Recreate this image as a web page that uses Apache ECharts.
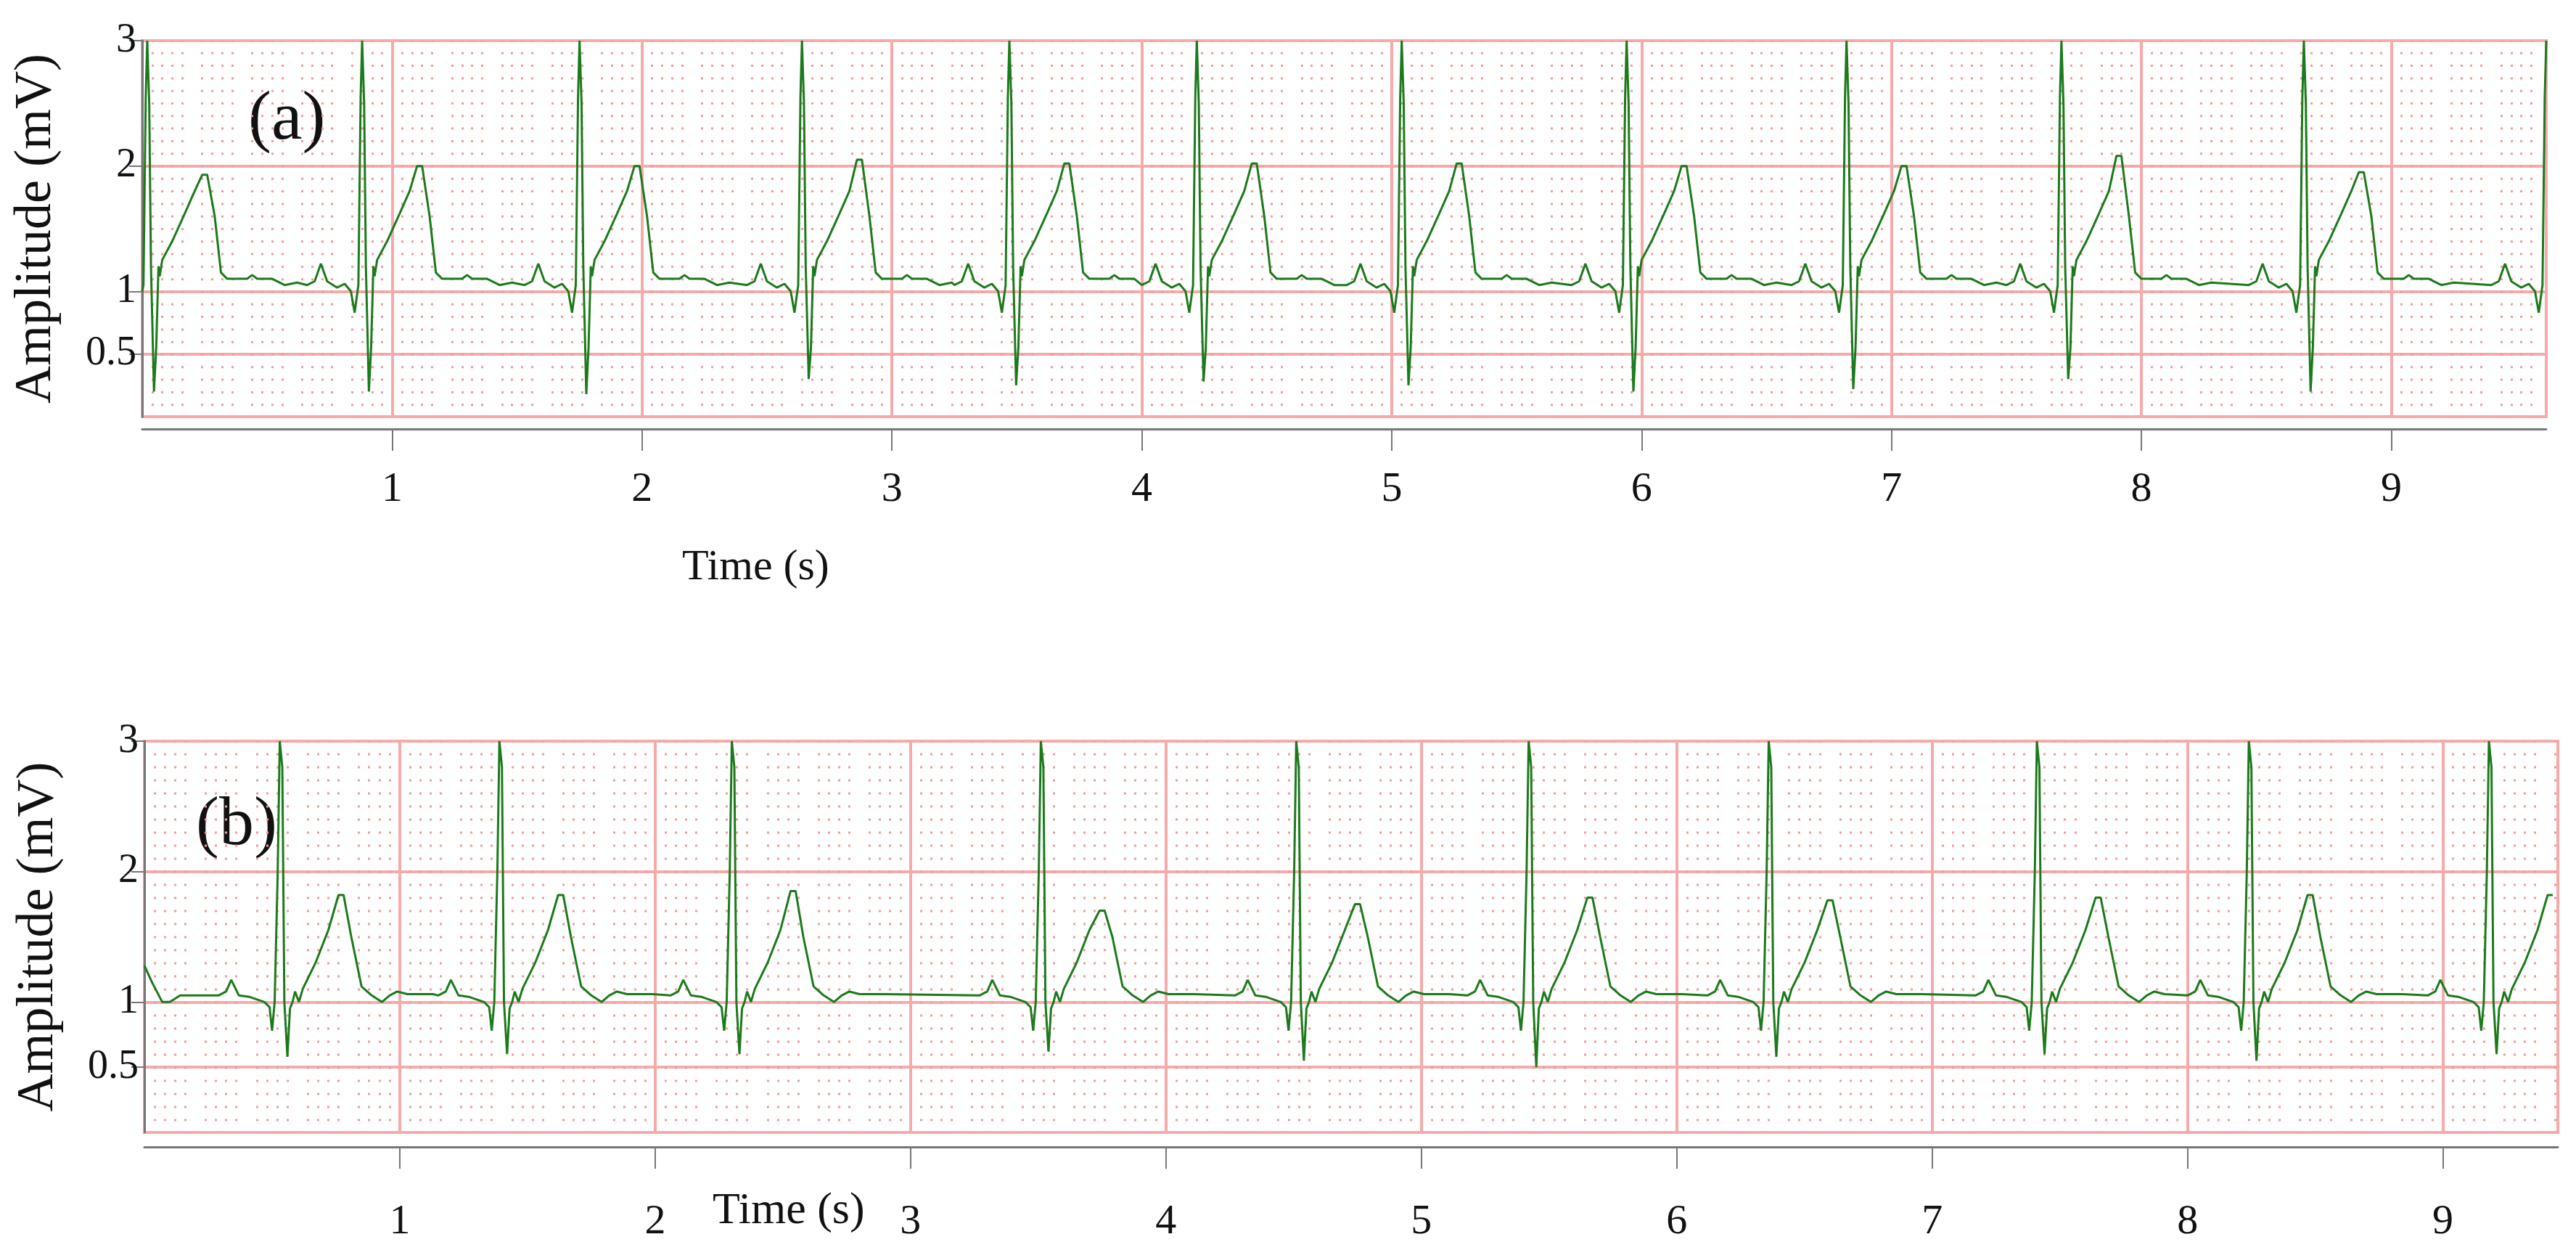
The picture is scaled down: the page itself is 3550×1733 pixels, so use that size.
<!DOCTYPE html>
<html>
<head>
<meta charset="utf-8">
<script src="https://cdn.jsdelivr.net/npm/echarts@6/dist/echarts.min.js"></script>
<style>
  html, body { margin: 0; padding: 0; background: #fff; }
  #chart { width: 3550px; height: 1733px; }
</style>
</head>
<body>
<div id="chart"></div>
<script>
// R-peak times (s) and T-wave peak heights (mV)
const rTimesA = [0.02, 0.88, 1.75, 2.64, 3.47, 4.22, 5.04, 5.94, 6.82, 7.68, 8.65, 9.62]
const tPeaksA = [1.93, 2.0, 2.0, 2.05, 2.02, 2.02, 2.02, 2.0, 2.0, 2.08, 1.95, 1.95]
const sDipsA = [0.2, 0.2, 0.18, 0.3, 0.25, 0.28, 0.25, 0.2, 0.22, 0.3, 0.2, 0.15]

const rTimesB = [0.53, 1.39, 2.30, 3.51, 4.51, 5.42, 6.36, 7.41, 8.24, 9.18]
const tPeaksB = [1.82, 1.82, 1.85, 1.7, 1.75, 1.8, 1.78, 1.8, 1.82, 1.82]
const sDipsB = [0.58, 0.6, 0.6, 0.62, 0.55, 0.5, 0.58, 0.6, 0.55, 0.6]

// one beat as drawn in each panel: [time after R (s), mV]; 'T' = T peak, 'S' = S dip
const beatA = [
    [-0.22, 1.05], [-0.19, 1.08], [-0.165, 1.22], [-0.14, 1.08], [-0.1, 1.03], [-0.07, 1.06],
    [-0.045, 1.0], [-0.03, 0.83], [-0.015, 1.05], [-0.006, 2.55], [-0.003, 2.55], [0, 3.0],
    [0.008, 2.5], [0.015, 1.2], [0.027, 'S'], [0.036, 0.55], [0.045, 1.2], [0.05, 1.12],
    [0.06, 1.25], [0.1, 1.4], [0.15, 1.62], [0.19, 1.8], [0.22, 'T'], [0.24, 'T'],
    [0.27, 1.6], [0.295, 1.15], [0.32, 1.1], [0.4, 1.1], [0.42, 1.13], [0.44, 1.1],
    [0.5, 1.1], [0.55, 1.05], [0.6, 1.07]
]
const beatB = [
    [-0.24, 1.05], [-0.21, 1.08], [-0.19, 1.17], [-0.16, 1.05], [-0.12, 1.04], [-0.06, 1.0],
    [-0.04, 0.96], [-0.03, 0.78], [-0.02, 1.0], [-0.008, 2.0], [0, 3.0], [0.01, 2.8],
    [0.018, 1.0], [0.03, 'S'], [0.04, 0.95], [0.05, 1.0], [0.06, 1.08], [0.075, 1.0],
    [0.09, 1.1], [0.14, 1.3], [0.19, 1.55], [0.23, 'T'], [0.25, 'T'], [0.28, 1.5],
    [0.32, 1.12], [0.36, 1.05], [0.4, 1.0], [0.43, 1.05], [0.46, 1.08], [0.5, 1.06], [0.6, 1.06]
]

// the start of each trace, before its first full beat
const leadA = [[0, 1.0]]
const leadB = [[0, 1.28], [0.03, 1.15], [0.07, 1.0], [0.1, 1.0], [0.14, 1.05], [0.18, 1.05]]

const xMaxA = 9.62
const xMaxB = 9.45
const xLabels = [1, 2, 3, 4, 5, 6, 7, 8, 9]
const yLabels = [0.5, 1, 2, 3]

function buildTrace(rTimes, tPeaks, sDips, beat, leadPts, end, gap) {
    const pts = leadPts.slice()
    const t0 = leadPts[leadPts.length - 1][0]
    rTimes.forEach((r, i) => {
        const next = i + 1 < rTimes.length ? rTimes[i + 1] : Infinity
        beat.forEach(([dt, v]) => {
            const t = r + dt
            if (t <= t0 || t > end) return
            if (dt > 0 && t > next - gap) return
            const val = v === 'T' ? tPeaks[i] : v === 'S' ? sDips[i] : v
            pts.push([+t.toFixed(4), val])
        })
    })
    return pts
}

const traceA = buildTrace(rTimesA, tPeaksA, sDipsA, beatA, leadA, xMaxA, 0.23)
const traceB = buildTrace(rTimesB, tPeaksB, sDipsB, beatB, leadB, xMaxB, 0.25)

const pink = '#f6aaaa'
const dotPink = '#ef9c9c'
const serif = 'Liberation Serif'

function xAxisFor(gridIndex, max, offset, margin, dash) {
    return {
        type: 'value', gridIndex, min: 0, max, interval: 0.2, offset,
        axisLine: {show: true, onZero: false, lineStyle: {color: '#777', width: 3}},
        axisTick: {show: true, customValues: xLabels, length: 30, lineStyle: {color: '#777', width: 2}},
        axisLabel: {customValues: xLabels, fontFamily: serif, fontSize: 58, color: '#111', margin},
        splitLine: {show: true, lineStyle: {color: pink, width: 4}},
        minorTick: {show: false, splitNumber: 5},
        minorSplitLine: {show: true, lineStyle: {color: dotPink, width: 3, type: dash, dashOffset: 1.5}}
    }
}

function yAxisFor(gridIndex) {
    return {
        type: 'value', gridIndex, min: 0, max: 3, interval: 0.5,
        name: 'Amplitude (mV)',
        nameLocation: 'middle', nameGap: 110,
        nameTextStyle: {fontFamily: serif, fontSize: 72, color: '#111'},
        axisLine: {show: true, lineStyle: {color: '#777', width: 3}},
        axisTick: {show: true, customValues: yLabels, length: 18, lineStyle: {color: '#777', width: 2}},
        axisLabel: {customValues: yLabels, fontFamily: serif, fontSize: 56, color: '#111', margin: 8},
        splitLine: {show: true, lineStyle: {color: pink, width: 4}},
        minorSplitLine: {show: false}
    }
}

const chart = echarts.init(document.getElementById('chart'))
chart.setOption({
    animation: false,
    backgroundColor: '#fff',
    grid: [
        {left: 196, top: 56, width: 3313, height: 518, show: true, borderColor: pink, borderWidth: 4},
        {left: 199, top: 1021, width: 3326, height: 539, show: true, borderColor: pink, borderWidth: 4}
    ],
    xAxis: [
        xAxisFor(0, xMaxA, 17, 55, [3, 14.3]),
        xAxisFor(1, xMaxB, 20, 75, [3, 15])
    ],
    yAxis: [yAxisFor(0), yAxisFor(1)],
    graphic: [
        {type: 'text', left: 342, top: 118, style: {text: '(a)', fontFamily: serif, fontSize: 96, fill: '#111'}},
        {type: 'text', left: 270, top: 1090, style: {text: '(b)', fontFamily: serif, fontSize: 96, fill: '#111'}},
        {type: 'text', left: 940, top: 752, style: {text: 'Time (s)', fontFamily: serif, fontSize: 60, fill: '#111'}},
        {type: 'text', left: 982, top: 1638, style: {text: 'Time (s)', fontFamily: serif, fontSize: 62, fill: '#111'}}
    ],
    series: [
        {type: 'line', xAxisIndex: 0, yAxisIndex: 0, data: traceA, showSymbol: false,
            lineStyle: {color: '#1b7a1b', width: 3}, clip: true},
        {type: 'line', xAxisIndex: 1, yAxisIndex: 1, data: traceB, showSymbol: false,
            lineStyle: {color: '#1b7a1b', width: 3}, clip: true}
    ]
})
</script>
</body>
</html>
